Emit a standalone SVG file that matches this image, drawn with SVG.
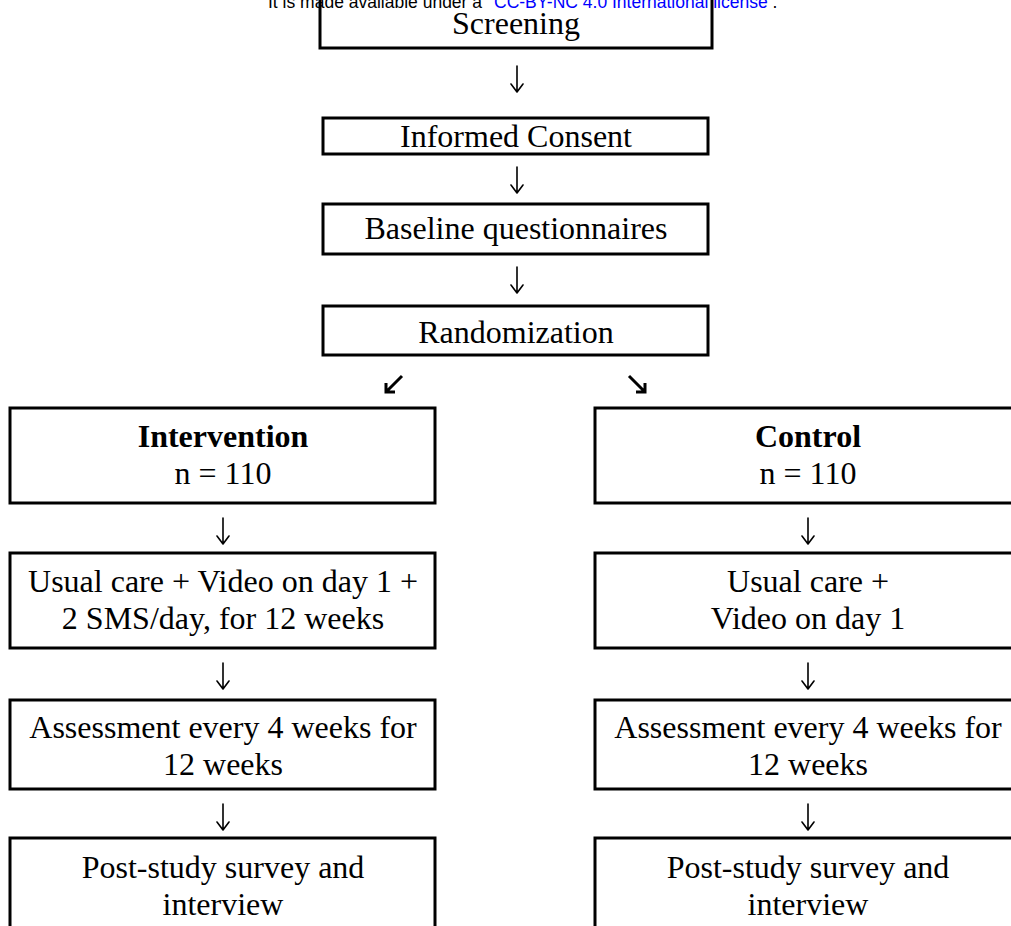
<svg xmlns="http://www.w3.org/2000/svg" width="1011" height="926" viewBox="0 0 1011 926">
<defs>
<style>
.box{fill:#fff;stroke:#000;stroke-width:3}
.t{font-family:"Liberation Serif","Times New Roman",serif;font-size:32px;fill:#000;text-anchor:middle}
.b{font-weight:bold}
.hdr{font-family:"Liberation Sans",Arial,sans-serif;font-size:17.5px;fill:#000}
.arr{fill:none;stroke:#000;stroke-width:1.6;stroke-linecap:round;stroke-linejoin:round}
.darr{fill:none;stroke:#000;stroke-width:3;stroke-linecap:butt;stroke-linejoin:miter}
</style>
</defs>
<rect width="1011" height="926" fill="#fff"/>
<text class="hdr" x="268" y="8">It is made available under a <tspan x="494" fill="#0000ff">CC-BY-NC 4.0 International license</tspan> .</text>
<g id="screening"><rect class="box" x="320" y="-4" width="392" height="52" style="fill:none"/><text class="t" x="516" y="34">Screening</text></g>
<g id="consent"><rect class="box" x="323" y="118" width="385" height="36"/><text class="t" x="516" y="147">Informed Consent</text></g>
<g id="baseline"><rect class="box" x="323" y="204" width="385" height="50"/><text class="t" x="516" y="239">Baseline questionnaires</text></g>
<g id="randomization"><rect class="box" x="323" y="306" width="385" height="49"/><text class="t" x="516" y="343">Randomization</text></g>
<g id="intervention"><rect class="box" x="10" y="408" width="425" height="95"/><text class="t b" x="223" y="447">Intervention</text><text class="t" x="223" y="484">n = 110</text></g>
<g id="control"><rect class="box" x="595" y="408" width="430" height="95"/><text class="t b" x="808" y="447">Control</text><text class="t" x="808" y="484">n = 110</text></g>
<g id="int-care"><rect class="box" x="10" y="553" width="425" height="95"/><text class="t" x="223" y="592">Usual care + Video on day 1 +</text><text class="t" x="223" y="629">2 SMS/day, for 12 weeks</text></g>
<g id="ctl-care"><rect class="box" x="595" y="553" width="430" height="95"/><text class="t" x="808" y="592">Usual care +</text><text class="t" x="808" y="629">Video on day 1</text></g>
<g id="int-assess"><rect class="box" x="10" y="700" width="425" height="89"/><text class="t" x="223" y="738">Assessment every 4 weeks for</text><text class="t" x="223" y="775">12 weeks</text></g>
<g id="ctl-assess"><rect class="box" x="595" y="700" width="430" height="89"/><text class="t" x="808" y="738">Assessment every 4 weeks for</text><text class="t" x="808" y="775">12 weeks</text></g>
<g id="int-post"><rect class="box" x="10" y="838" width="425" height="100"/><text class="t" x="223" y="878">Post-study survey and</text><text class="t" x="223" y="915">interview</text></g>
<g id="ctl-post"><rect class="box" x="595" y="838" width="430" height="100"/><text class="t" x="808" y="878">Post-study survey and</text><text class="t" x="808" y="915">interview</text></g>
<g id="connectors">
<path class="arr" d="M517 66V92M511 84L517 92L523 84"/>
<path class="arr" d="M517 167V193M511 185L517 193L523 185"/>
<path class="arr" d="M517 267V293M511 285L517 293L523 285"/>
<path class="darr" d="M402 376L386 392M386 383V392H395"/>
<path class="darr" d="M629 376L645 392M645 383V392H636"/>
<path class="arr" d="M223 518V544M217 536L223 544L229 536"/>
<path class="arr" d="M223 663V689M217 681L223 689L229 681"/>
<path class="arr" d="M223 804V830M217 822L223 830L229 822"/>
<path class="arr" d="M808 518V544M802 536L808 544L814 536"/>
<path class="arr" d="M808 663V689M802 681L808 689L814 681"/>
<path class="arr" d="M808 804V830M802 822L808 830L814 822"/>
</g>
</svg>
